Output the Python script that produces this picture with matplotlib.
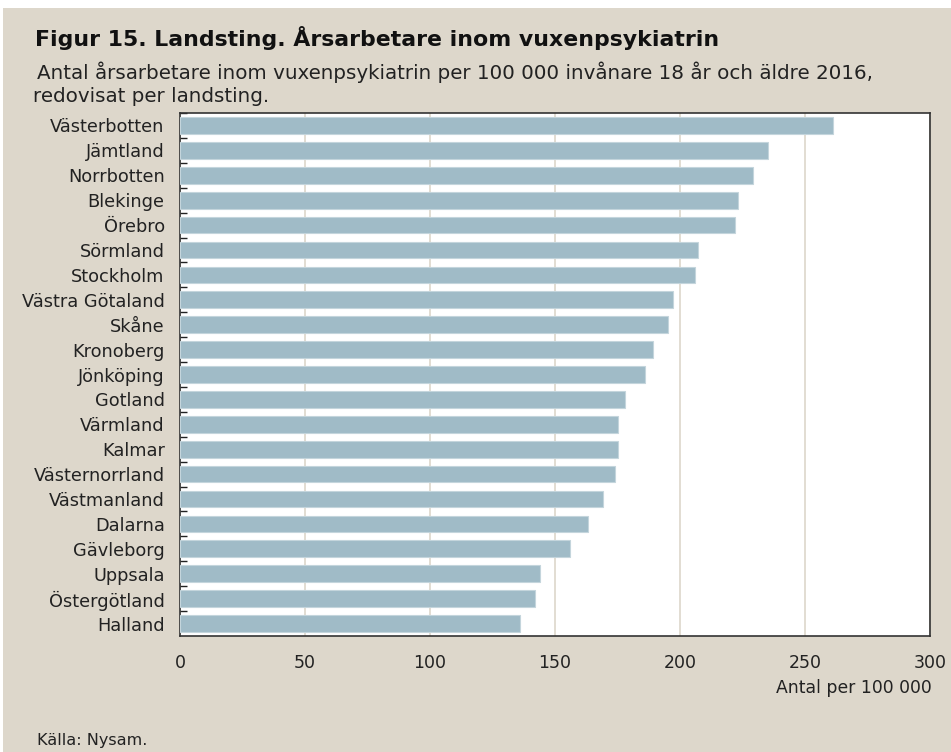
import matplotlib.pyplot as plt
from matplotlib.patches import Rectangle
from matplotlib.ticker import FixedLocator

# Landsting och årsarbetare per 100 000 invånare 18+ (2016)
landsting = [
    "Västerbotten", "Jämtland", "Norrbotten", "Blekinge", "Örebro",
    "Sörmland", "Stockholm", "Västra Götaland", "Skåne", "Kronoberg",
    "Jönköping", "Gotland", "Värmland", "Kalmar", "Västernorrland",
    "Västmanland", "Dalarna", "Gävleborg", "Uppsala", "Östergötland",
    "Halland",
]
antal = [261, 235, 229, 223, 222, 207, 206, 197, 195, 189,
         186, 178, 175, 175, 174, 169, 163, 156, 144, 142, 136]
xticks = [0, 50, 100, 150, 200, 250, 300]

beige = "#ddd7cb"
bar_color = "#a0bbc7"

fig = plt.figure(figsize=(9.51, 7.52), dpi=100)
fig.patch.set_facecolor("white")
fig.patches.append(Rectangle((3 / 951, 0), 1, 1 - 8 / 752,
                             transform=fig.transFigure, facecolor=beige,
                             edgecolor="none", zorder=-10))

W, H = 951, 752
ax = fig.add_axes([180 / W, 1 - 636 / H, 750 / W, (636 - 113) / H])
ax.set_facecolor("white")

pos = list(range(len(landsting)))
ax.barh(pos, antal, height=0.67, color=bar_color,
        edgecolor="#c4d5dc", linewidth=0.8, zorder=3)

ax.set_xlim(0, 300)
ax.set_ylim(len(landsting) - 0.5, -0.5)
ax.set_xticks(xticks)
ax.set_xticklabels([str(v) for v in xticks], fontsize=12.5, color="#222222")
ax.set_yticks(pos)
ax.set_yticklabels(landsting, fontsize=12.8, color="#222222")
ax.tick_params(axis="y", length=0, pad=11)
ax.tick_params(axis="x", length=0, pad=13)
ax.yaxis.set_minor_locator(FixedLocator([p + 0.5 for p in pos[:-1]] + [-0.5]))
ax.tick_params(axis="y", which="minor", direction="in", length=5, width=1,
               color="#222222")

ax.grid(axis="x", color=beige, linewidth=1.2, zorder=0)
for s in ax.spines.values():
    s.set_color("#333333")
    s.set_linewidth(1.2)

fig.text(35 / W, 1 - 38 / H, "Figur 15. Landsting. Årsarbetare inom vuxenpsykiatrin",
         fontsize=15.8, fontweight="bold", color="#111111", va="center")
fig.text(37 / W, 1 - 72 / H,
         "Antal årsarbetare inom vuxenpsykiatrin per 100 000 invånare 18 år och äldre 2016,",
         fontsize=14.3, color="#222222", va="center")
fig.text(33 / W, 1 - 96 / H, "redovisat per landsting.",
         fontsize=14.3, color="#222222", va="center")
fig.text(932 / W, 1 - 688 / H, "Antal per 100 000",
         fontsize=12.4, color="#222222", va="center", ha="right")
fig.text(37 / W, 1 - 740 / H, "Källa: Nysam.",
         fontsize=11.6, color="#222222", va="center")

fig.savefig("out.png", dpi=100, facecolor=fig.get_facecolor())
